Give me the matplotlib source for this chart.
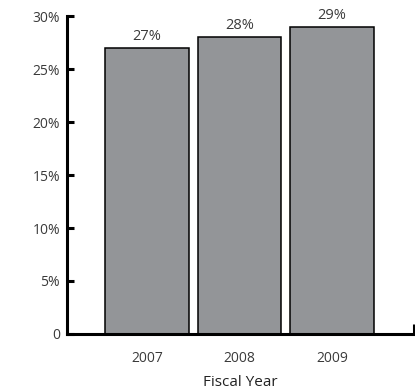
import matplotlib.pyplot as plt
from matplotlib.ticker import FuncFormatter

years = ["2007", "2008", "2009"]
shares = [27, 28, 29]
y_ticks = [0, 5, 10, 15, 20, 25, 30]

BAR_COLOR = "#939598"
TEXT_COLOR = "#3a3a3a"

plt.rcParams["font.family"] = ["Open Sans", "DejaVu Sans"]

figure = plt.figure(figsize=(4.15, 3.92), dpi=100)
axis = figure.add_axes([0.1614, 0.148, 0.8362, 0.811])

positions = range(len(years))
bars = axis.bar(positions, shares, width=0.905, color=BAR_COLOR,
                edgecolor="black", linewidth=1.1)

for bar, value in zip(bars, shares):
    axis.annotate(f"{value}%", (bar.get_x() + bar.get_width() / 2, value),
                  xytext=(0, 3), textcoords="offset points",
                  ha="center", va="bottom", fontsize=10.5, color=TEXT_COLOR)

x_left, x_right = -0.865, 2.885
axis.set_xlim(x_left, x_right)
axis.set_ylim(0, 30)

axis.set_xticks(list(positions))
axis.set_xticklabels(years)
axis.set_yticks(y_ticks)
axis.yaxis.set_major_formatter(FuncFormatter(lambda v, _: "0" if v == 0 else f"{v:.0f}%"))

axis.spines["top"].set_visible(False)
axis.spines["right"].set_visible(False)
for side in ("left", "bottom"):
    axis.spines[side].set_linewidth(2.2)
    axis.spines[side].set_capstyle("projecting")

axis.tick_params(axis="y", direction="in", length=5, width=2.2,
                 labelsize=10, labelcolor=TEXT_COLOR, pad=5)
axis.tick_params(axis="x", length=0, labelsize=10, labelcolor=TEXT_COLOR, pad=12)

# small upturned end on the baseline
axis.set_xticks([x_right - 0.004], minor=True)
axis.tick_params(axis="x", which="minor", direction="in", length=7, width=2.2)

axis.set_xlabel("Fiscal Year", fontsize=11, color="#222222", labelpad=7)

figure.savefig("out.png", dpi=100)
